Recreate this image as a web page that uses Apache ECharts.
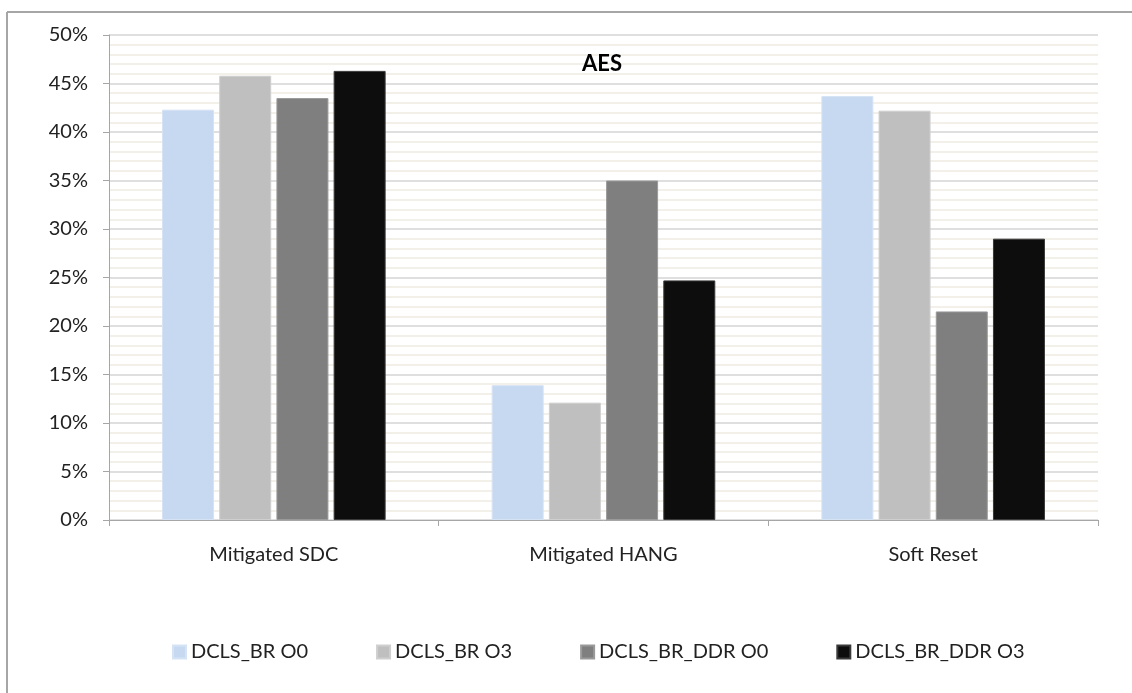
<!DOCTYPE html>
<html>
<head>
<meta charset="utf-8">
<script src="https://cdn.jsdelivr.net/npm/echarts@6/dist/echarts.min.js"></script>
<style>
  html, body { margin: 0; padding: 0; background: #fff; }
  #chart { width: 1132px; height: 693px; }
</style>
</head>
<body>
<div id="chart"></div>
<script>
// Categories along the x axis
const categories = ['Mitigated SDC', 'Mitigated HANG', 'Soft Reset'];

// Series names and values (percent)
const seriesNames = ['DCLS_BR O0', 'DCLS_BR O3', 'DCLS_BR_DDR O0', 'DCLS_BR_DDR O3'];
const brO0 = [42.3, 13.9, 43.7];
const brO3 = [45.8, 12.1, 42.2];
const brDdrO0 = [43.5, 35.0, 21.5];
const brDdrO3 = [46.3, 24.7, 29.0];

const seriesValues = [brO0, brO3, brDdrO0, brDdrO3];
const seriesColors = ['#C6D9F1', '#BFBFBF', '#7F7F7F', '#0D0D0D'];
const seriesBorders = ['#D6E3F5', '#CFCFCF', '#9A9A9A', '#3A3A3A'];

const font = 'Lato, "Open Sans", "Liberation Sans", sans-serif';

const chart = echarts.init(document.getElementById('chart'), null, { renderer: 'canvas' });

chart.setOption({
  animation: false,
  backgroundColor: '#ffffff',
  title: {
    text: 'AES',
    left: 577,
    top: 48,
    textStyle: { fontFamily: font, fontWeight: 'bold', fontSize: 22, color: '#000' }
  },
  legend: {
    data: seriesNames,
    left: 167,
    top: 637,
    itemWidth: 13,
    itemHeight: 13,
    itemGap: 68,
    icon: 'rect',
    textStyle: { fontFamily: font, fontSize: 20, color: '#222' }
  },
  grid: { left: 109, right: 34, top: 35, bottom: 173 },
  xAxis: {
    type: 'category',
    data: categories,
    axisLine: { show: true, lineStyle: { color: '#A6A6A6', width: 1 } },
    axisTick: { show: true, length: 6, lineStyle: { color: '#A6A6A6' } },
    axisLabel: { fontFamily: font, fontSize: 20, color: '#222', margin: 25 }
  },
  yAxis: {
    type: 'value',
    min: 0,
    max: 50,
    interval: 5,
    axisLine: { show: true, lineStyle: { color: '#A6A6A6', width: 1 } },
    axisTick: { show: true, length: 6, lineStyle: { color: '#A6A6A6' } },
    axisLabel: { fontFamily: font, fontSize: 20, color: '#222', margin: 21, formatter: '{value}%' },
    splitLine: { show: true, lineStyle: { color: '#D4D4D4', width: 1.5 } },
    minorTick: { show: false, splitNumber: 5 },
    minorSplitLine: { show: true, lineStyle: { color: '#EEECE2', width: 1.5 } }
  },
  series: seriesNames.map((name, i) => ({
    name,
    type: 'bar',
    data: seriesValues[i],
    barWidth: 52,
    barGap: '10%',
    itemStyle: { color: seriesColors[i], borderColor: seriesBorders[i], borderWidth: 1 }
  })),
  graphic: [
    { type: 'line', shape: { x1: 7, y1: 12, x2: 1132, y2: 12 }, style: { stroke: '#A6A6A6', lineWidth: 2 }, silent: true },
    { type: 'line', shape: { x1: 7, y1: 12, x2: 7, y2: 693 }, style: { stroke: '#A6A6A6', lineWidth: 2 }, silent: true }
  ]
});
</script>
</body>
</html>
